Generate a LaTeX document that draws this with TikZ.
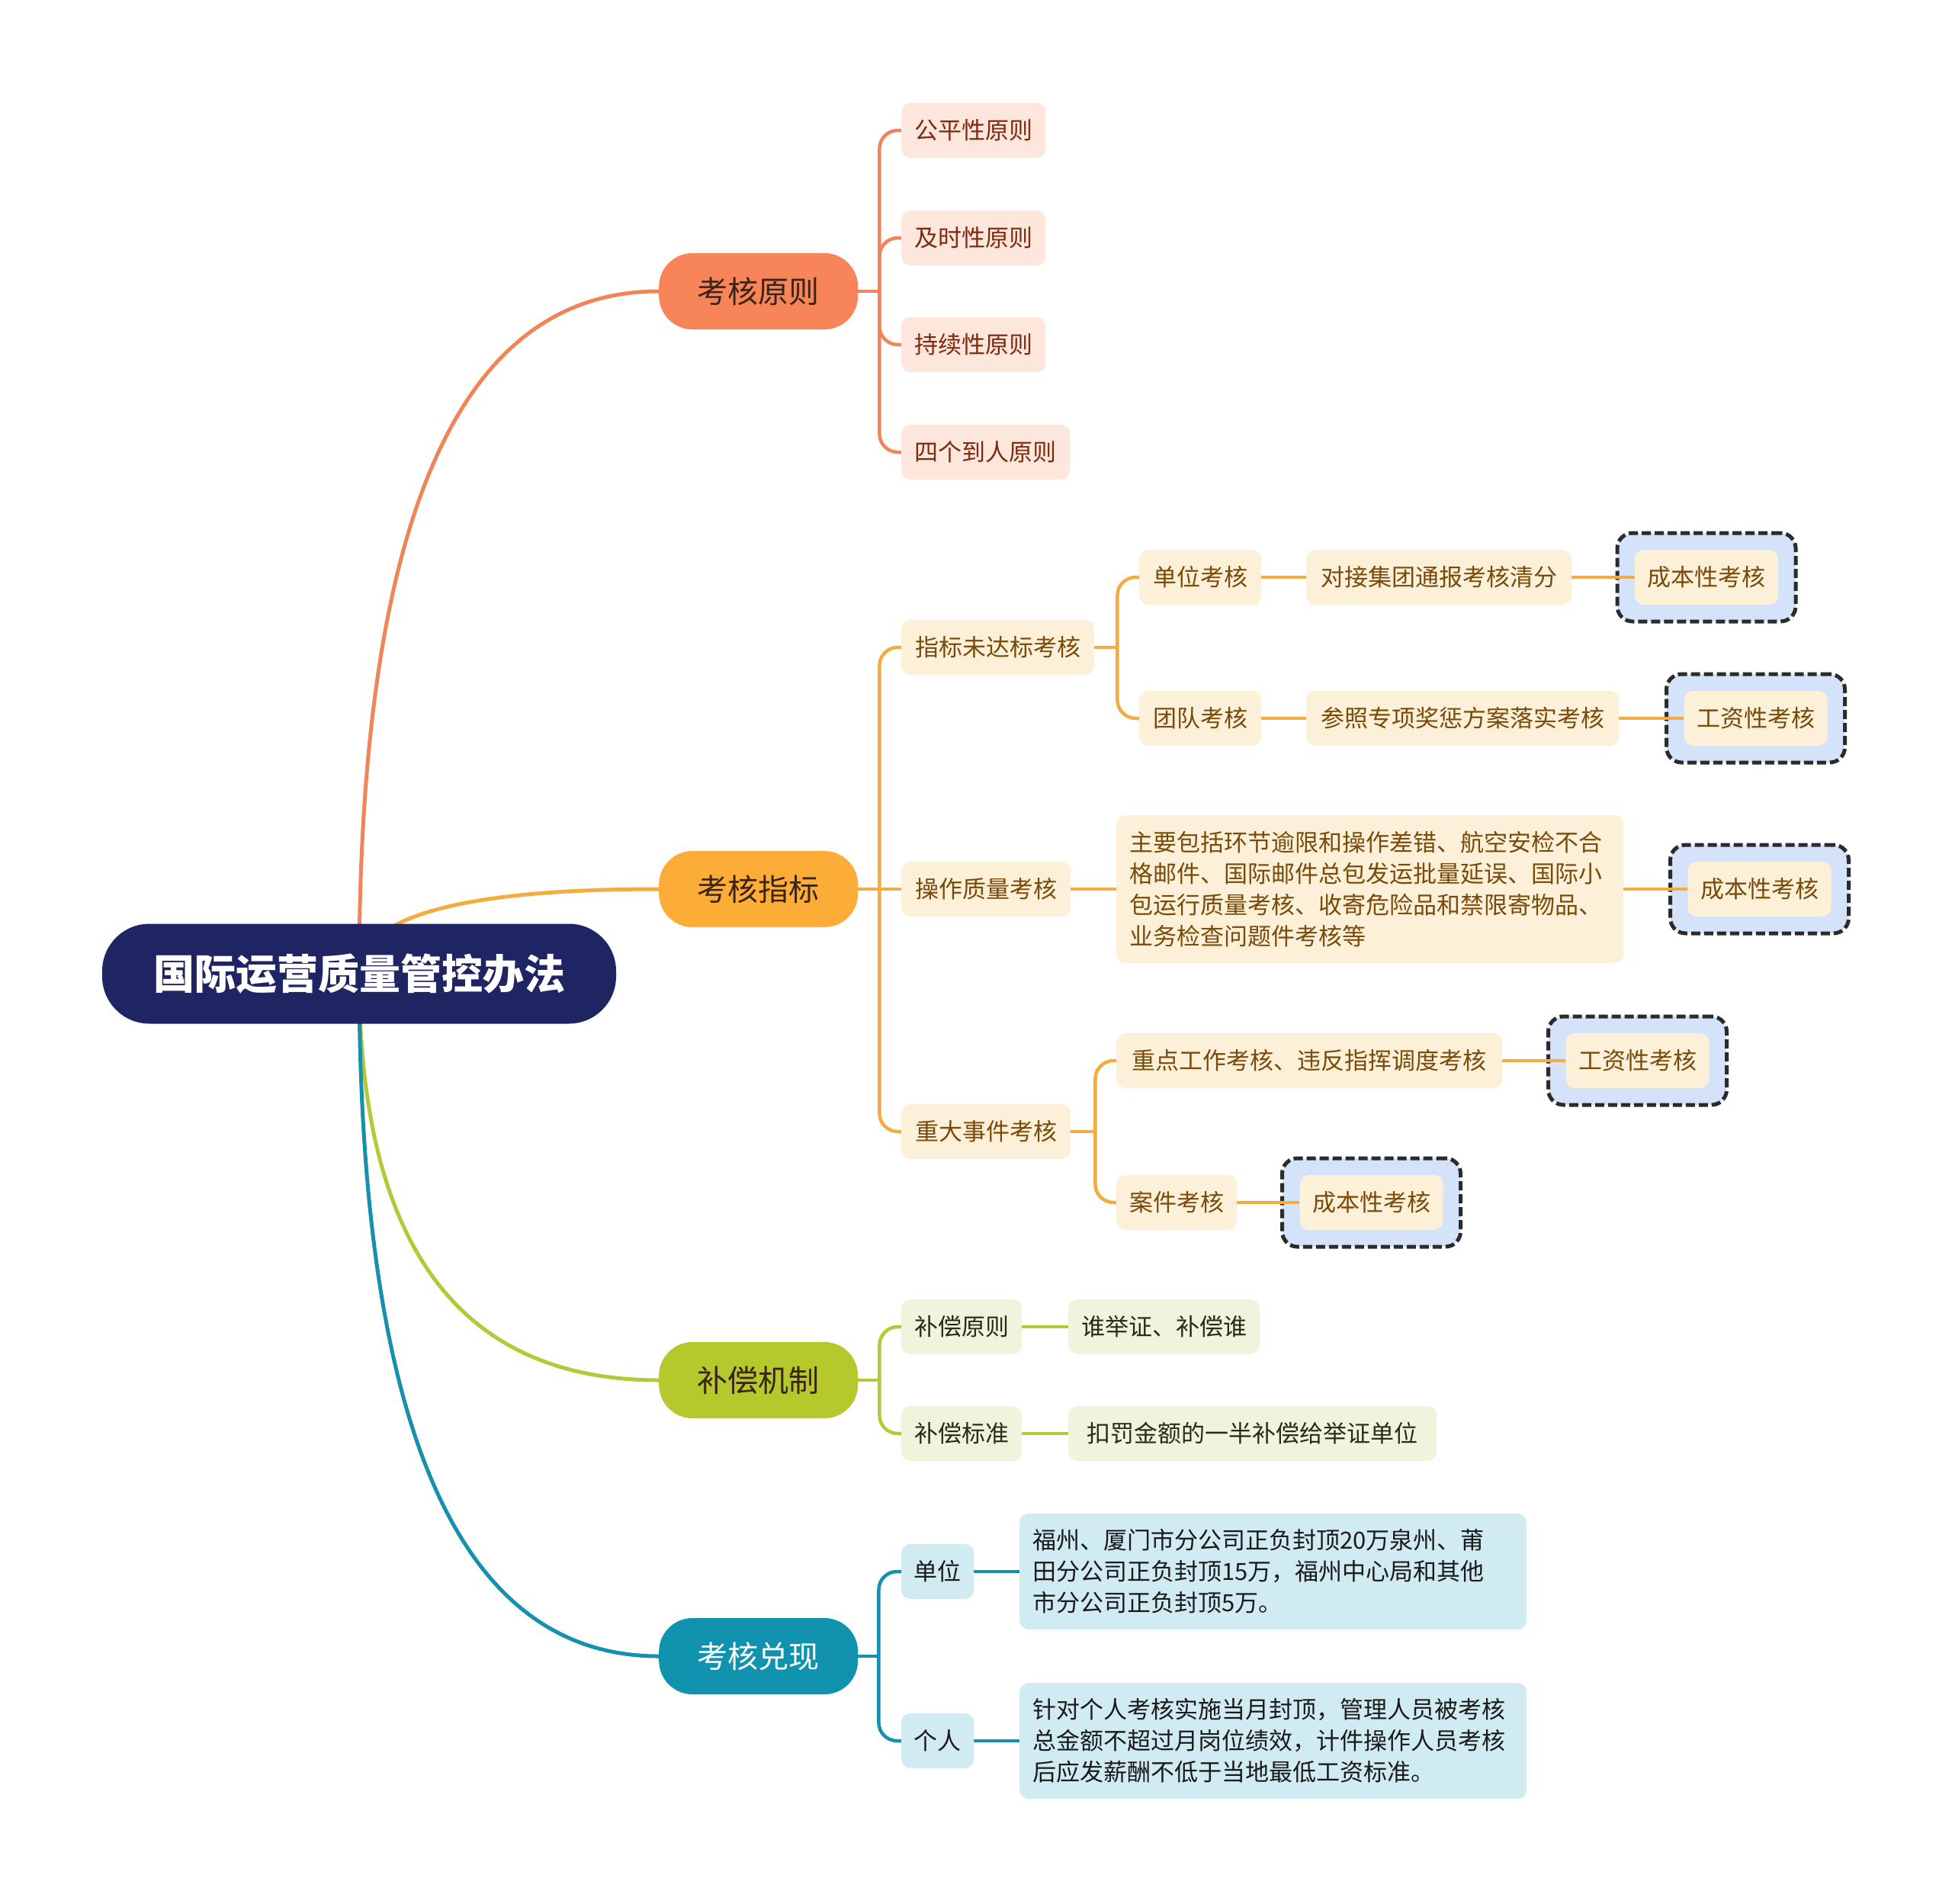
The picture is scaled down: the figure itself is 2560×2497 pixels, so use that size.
\documentclass[tikz,border=0pt]{standalone}
\usepackage{fontspec}
\setmainfont{Noto Sans CJK SC}
\usetikzlibrary{calc}
\pgfdeclarelayer{back}
\pgfdeclarelayer{mid}
\pgfsetlayers{back,mid,main}
\definecolor{rootfill}{HTML}{1F2463}
\definecolor{orFill}{HTML}{F8845A}
\definecolor{orLine}{HTML}{EF8558}
\definecolor{orChild}{HTML}{FDE6DB}
\definecolor{orText}{HTML}{7D2A10}
\definecolor{yeFill}{HTML}{FBAD38}
\definecolor{yeLine}{HTML}{F4AC3E}
\definecolor{yeChild}{HTML}{FDF0D8}
\definecolor{yeText}{HTML}{7A4A0A}
\definecolor{grFill}{HTML}{B6C92C}
\definecolor{grLine}{HTML}{B4C838}
\definecolor{grChild}{HTML}{F1F3DC}
\definecolor{grText}{HTML}{2A2A1A}
\definecolor{tlFill}{HTML}{1193B0}
\definecolor{tlLine}{HTML}{1590AE}
\definecolor{tlChild}{HTML}{D0EBF2}
\definecolor{tlText}{HTML}{1A1A1A}
\definecolor{dashFill}{HTML}{D4E3FA}
\definecolor{dashLine}{HTML}{2B2B2B}
\definecolor{lvText}{HTML}{3A2418}
\tikzset{
  rootn/.style={fill=rootfill, text=white, rounded corners=62, inner sep=0pt,
    minimum width=674, minimum height=131, font=\fontsize{54}{60}\selectfont\bfseries},
  lone/.style={anchor=west, rounded corners=44, inner sep=0pt, minimum width=261,
    minimum height=100, font=\fontsize{40}{46}\selectfont},
  box/.style={anchor=west, rounded corners=12, inner sep=0pt, minimum height=72,
    font=\fontsize{31}{41}\selectfont},
  tbox/.style={box, align=left, text width=631},
  dashbox/.style={draw=dashLine, fill=dashFill, line width=5, dash pattern=on 12 off 5,
    rounded corners=20, inner sep=0pt, minimum width=234, minimum height=116},
  inbox/.style={box, anchor=center, minimum width=188},
  rootline/.style={line width=5},
  br/.style={line width=4.5},
}
\begin{document}
\begin{tikzpicture}[x=1pt,y=-1pt]
\useasboundingbox (0,0) rectangle (2560,2497);
\begin{pgfonlayer}{back}
\fill[white] (0,0) rectangle (2560,2497);
\end{pgfonlayer}

% root and level 1
\node[rootn] (root) at (471,1277) {国际运营质量管控办法};
\node[lone, fill=orFill, text=lvText] (p1) at (864,382) {考核原则};
\node[lone, fill=yeFill, text=lvText] (p2) at (864,1166) {考核指标};
\node[lone, fill=grFill, text=lvText] (p3) at (864,1810) {补偿机制};
\node[lone, fill=tlFill, text=white] (p4) at (864,2172) {考核兑现};

% 考核原则 children
\tikzset{oc/.style={box, fill=orChild, text=orText}}
\node[oc, minimum width=189] (a1) at (1182,171) {公平性原则};
\node[oc, minimum width=189] (a2) at (1182,312) {及时性原则};
\node[oc, minimum width=189] (a3) at (1182,452) {持续性原则};
\node[oc, minimum width=221] (a4) at (1182,593) {四个到人原则};

% 考核指标 children
\tikzset{yc/.style={box, fill=yeChild, text=yeText}}
\node[yc, minimum width=253] (b1) at (1182,849) {指标未达标考核};
\node[yc, minimum width=222] (b2) at (1182,1166) {操作质量考核};
\node[yc, minimum width=222] (b3) at (1182,1484) {重大事件考核};
\node[yc, minimum width=160] (b11) at (1494,757) {单位考核};
\node[yc, minimum width=348] (b111) at (1713,757) {对接集团通报考核清分};
\node[yc, minimum width=160] (b12) at (1494,942) {团队考核};
\node[yc, minimum width=410] (b121) at (1713,942) {参照专项奖惩方案落实考核};
\node[yc, tbox, minimum width=665, minimum height=194] (b21) at (1464,1166)
  {主要包括环节逾限和操作差错、航空安检不合\\格邮件、国际邮件总包发运批量延误、国际小\\包运行质量考核、收寄危险品和禁限寄物品、\\业务检查问题件考核等};
\node[yc, minimum width=506] (b31) at (1464,1391) {重点工作考核、违反指挥调度考核};
\node[yc, minimum width=158] (b32) at (1464,1577) {案件考核};

\begin{pgfonlayer}{back}
\node[dashbox] (o1) at (2238,757) {};
\node[dashbox] (o2) at (2302.5,942) {};
\node[dashbox] (o3) at (2307.5,1166) {};
\node[dashbox] (o4) at (2147.5,1391) {};
\node[dashbox] (o5) at (1798.5,1577) {};
\end{pgfonlayer}
\node[yc, inbox] (b1111) at (o1) {成本性考核};
\node[yc, inbox] (b1211) at (o2) {工资性考核};
\node[yc, inbox] (b211) at (o3) {成本性考核};
\node[yc, inbox] (b311) at (o4) {工资性考核};
\node[yc, inbox] (b321) at (o5) {成本性考核};

% 补偿机制 children
\tikzset{gc/.style={box, fill=grChild, text=grText}}
\node[gc, minimum width=158] (c1) at (1182,1740) {补偿原则};
\node[gc, minimum width=251] (c11) at (1401,1740) {谁举证、补偿谁};
\node[gc, minimum width=158] (c2) at (1182,1880) {补偿标准};
\node[gc, minimum width=483] (c21) at (1401,1880) {扣罚金额的一半补偿给举证单位};

% 考核兑现 children
\tikzset{tc/.style={box, fill=tlChild, text=tlText}}
\node[tc, minimum width=95] (d1) at (1182,2061) {单位};
\node[tc, tbox, minimum width=665, minimum height=152] (d11) at (1337,2061)
  {福州、厦门市分公司正负封顶20万泉州、莆\\田分公司正负封顶15万，福州中心局和其他\\市分公司正负封顶5万。};
\node[tc, minimum width=95] (d2) at (1182,2283) {个人};
\node[tc, tbox, minimum width=665, minimum height=152] (d21) at (1337,2283)
  {针对个人考核实施当月封顶，管理人员被考核\\总金额不超过月岗位绩效，计件操作人员考核\\后应发薪酬不低于当地最低工资标准。};

\begin{pgfonlayer}{mid}
% root connectors
\foreach \p/\c in {p1/orLine, p2/yeLine, p3/grLine, p4/tlLine}{
  \draw[rootline, \c] (root.center) .. controls ($(root.center)!2/3!(root.center |- \p.west)$)
    and ($(\p.west)!2/3!(root.center |- \p.west)$) .. (\p.west);
}
% 考核原则
\draw[br, orLine] (p1.east) -- ++(28,0) coordinate (j1);
\foreach \c in {a1,a2,a3,a4}{ \draw[br, orLine, rounded corners=24] (j1) |- (\c.west); }
% 考核指标
\draw[br, yeLine] (p2.east) -- ++(28,0) coordinate (j2);
\draw[br, yeLine, rounded corners=24] (j2) |- (b1.west);
\draw[br, yeLine] (j2) -- (b2.west);
\draw[br, yeLine, rounded corners=24] (j2) |- (b3.west);
\draw[br, yeLine] (b1.east) -- ++(30,0) coordinate (j3);
\draw[br, yeLine, rounded corners=24] (j3) |- (b11.west);
\draw[br, yeLine, rounded corners=24] (j3) |- (b12.west);
\draw[br, yeLine] (b11.east) -- (b111.west);
\draw[br, yeLine] (b111.east) -- (b1111.west);
\draw[br, yeLine] (b12.east) -- (b121.west);
\draw[br, yeLine] (b121.east) -- (b1211.west);
\draw[br, yeLine] (b2.east) -- (b21.west);
\draw[br, yeLine] (b21.east) -- (b211.west);
\draw[br, yeLine] (b3.east) -- ++(32,0) coordinate (j4);
\draw[br, yeLine, rounded corners=24] (j4) |- (b31.west);
\draw[br, yeLine, rounded corners=24] (j4) |- (b32.west);
\draw[br, yeLine] (b31.east) -- (b311.west);
\draw[br, yeLine] (b32.east) -- (b321.west);
% 补偿机制
\draw[br, grLine] (p3.east) -- ++(28,0) coordinate (j5);
\draw[br, grLine, rounded corners=24] (j5) |- (c1.west);
\draw[br, grLine, rounded corners=24] (j5) |- (c2.west);
\draw[br, grLine] (c1.east) -- (c11.west);
\draw[br, grLine] (c2.east) -- (c21.west);
% 考核兑现
\draw[br, tlLine] (p4.east) -- ++(27,0) coordinate (j6);
\draw[br, tlLine, rounded corners=24] (j6) |- (d1.west);
\draw[br, tlLine, rounded corners=24] (j6) |- (d2.west);
\draw[br, tlLine] (d1.east) -- (d11.west);
\draw[br, tlLine] (d2.east) -- (d21.west);
\end{pgfonlayer}
\end{tikzpicture}
\end{document}
